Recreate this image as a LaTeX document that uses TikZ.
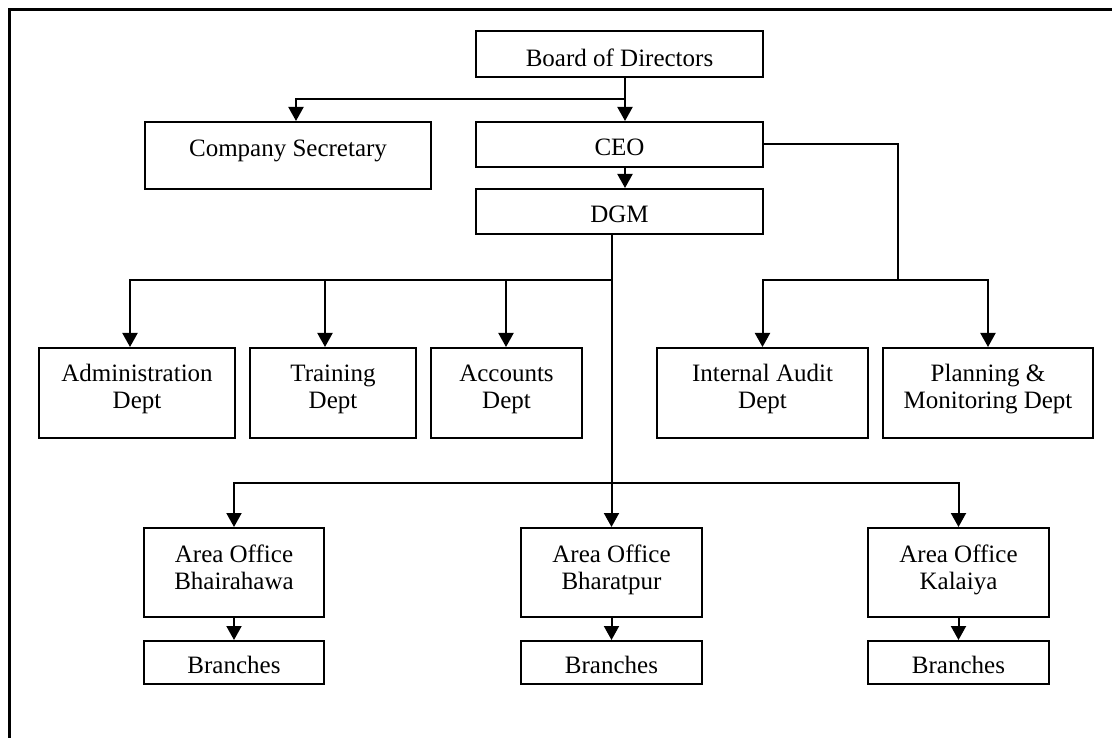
\documentclass[tikz,border=0pt]{standalone}
\usepackage{fontspec}
\setmainfont{Liberation Serif}
\usetikzlibrary{arrows.meta}
\begin{document}
\begin{tikzpicture}[x=1pt,y=-1pt,
 box/.style={draw, line width=2pt, inner sep=0pt, font=\fontsize{25}{27}\selectfont, align=center},
 one/.style={text height=22pt, text depth=0pt},
 two/.style={text height=30pt, text depth=0pt},
 three/.style={text height=34pt, text depth=0pt},
 arr/.style={line width=2pt, -{Triangle[width=15pt,length=14pt]}},
 ln/.style={line width=2pt}]
\useasboundingbox (0,0) rectangle (1112,738);
\draw[line width=2.6pt] (9.6,738) -- (9.6,9.6) -- (1112,9.6);
% top
\node[box,text height=26pt,text depth=0pt,minimum width=287pt,minimum height=46pt] (board) at (619.5,54) {Board of Directors};
\node[box,text height=12pt,text depth=9pt,minimum width=286pt,minimum height=67pt] (cs) at (288,155.5) {Company Secretary};
\node[box,one,minimum width=287pt,minimum height=45pt] (ceo) at (619.5,144.5) {CEO};
\node[box,one,minimum width=287pt,minimum height=45pt] (dgm) at (619.5,211.5) {DGM};
% departments
\node[box,two,minimum width=196pt,minimum height=90pt] (adm) at (137,393) {Administration\\Dept};
\node[box,two,minimum width=166pt,minimum height=90pt] (trn) at (333,393) {Training\\Dept};
\node[box,two,minimum width=151pt,minimum height=90pt] (acc) at (506.5,393) {Accounts\\Dept};
\node[box,two,minimum width=211pt,minimum height=90pt] (ia) at (762.5,393) {Internal Audit\\Dept};
\node[box,two,minimum width=210pt,minimum height=90pt] (pm) at (988,393) {Planning \&\\Monitoring Dept};
% area offices
\node[box,three,minimum width=180pt,minimum height=89pt] (bhw) at (234,572.5) {Area Office\\Bhairahawa};
\node[box,three,minimum width=181pt,minimum height=89pt] (bhp) at (611.5,572.5) {Area Office\\Bharatpur};
\node[box,three,minimum width=181pt,minimum height=89pt] (kal) at (958.5,572.5) {Area Office\\Kalaiya};
% branches
\node[box,one,minimum width=180pt,minimum height=43pt] (br1) at (234,662.5) {Branches};
\node[box,one,minimum width=181pt,minimum height=43pt] (br2) at (611.5,662.5) {Branches};
\node[box,one,minimum width=181pt,minimum height=43pt] (br3) at (958.5,662.5) {Branches};
% junction coordinates
\coordinate (bj) at (625,99);
\coordinate (rj) at (898,280);
\coordinate (dj1) at (611.5,280);
\coordinate (dj2) at (611.5,483);
% connectors
\draw[arr] ([xshift=5.5pt]board.south) -- ([xshift=5.5pt]ceo.north);
\draw[arr] (bj) -| ([xshift=8pt]cs.north);
\draw[arr] ([xshift=5.5pt]ceo.south) -- ([xshift=5.5pt]dgm.north);
\draw[ln] (ceo.east) -| (rj);
\draw[arr] (rj) -| (ia.north);
\draw[arr] (rj) -| (pm.north);
\draw[arr] ([xshift=-8pt]dgm.south) -- (bhp.north);
\draw[arr] (dj1) -| ([xshift=-7pt]adm.north);
\draw[arr] (dj1) -| ([xshift=-8pt]trn.north);
\draw[arr] (dj1) -| ([xshift=-0.5pt]acc.north);
\draw[arr] (dj2) -| (bhw.north);
\draw[arr] (dj2) -| (kal.north);
\draw[arr] (bhw.south) -- (br1.north);
\draw[arr] (bhp.south) -- (br2.north);
\draw[arr] (kal.south) -- (br3.north);
\end{tikzpicture}
\end{document}
